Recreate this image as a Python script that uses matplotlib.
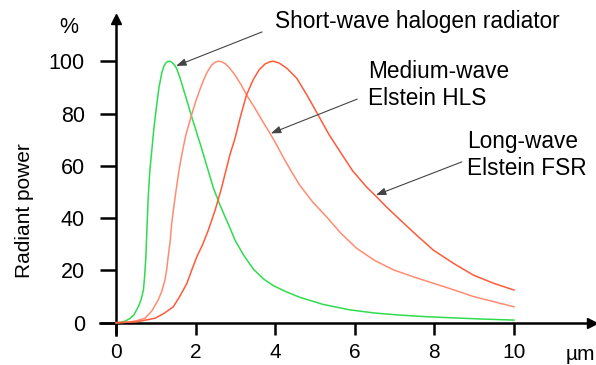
import matplotlib
matplotlib.use("Agg")
import matplotlib.pyplot as plt

plt.rcParams['font.family'] = ['Liberation Sans', 'DejaVu Sans']

# ---- data ----
short_x = [0, 0.1, 0.23, 0.35, 0.45, 0.56, 0.63, 0.69, 0.72, 0.75, 0.78, 0.81, 0.85, 0.9,
           0.95, 1.02, 1.08, 1.15, 1.2, 1.25, 1.3, 1.34, 1.38, 1.43, 1.48, 1.52, 1.6, 1.7,
           1.8, 1.9, 2.0, 2.15, 2.3, 2.45, 2.6, 2.74, 2.87, 2.99, 3.2, 3.45, 3.7, 3.95,
           4.25, 4.62, 5.2, 5.88, 6.5, 7.14, 7.8, 8.39, 9.2, 10]
short_y = [0, 0.1, 0.6, 1.6, 3.0, 6.1, 8.8, 12.5, 18, 25, 37, 48, 58, 66,
           74, 83, 90, 95.5, 98, 99.3, 99.9, 100, 99.8, 99.2, 98.3, 97.3, 94, 89,
           84, 78.8, 74, 66.7, 59, 51.4, 45.5, 40.5, 36, 31.6, 26, 20.5, 16.8, 14.2,
           12, 9.7, 7.0, 4.9, 3.7, 2.9, 2.3, 1.9, 1.4, 1.0]

medium_x = [0, 0.3, 0.5, 0.73, 0.9, 1.06, 1.15, 1.23, 1.28, 1.31, 1.36, 1.40, 1.45, 1.51,
            1.58, 1.65, 1.75, 1.9, 2.0, 2.15, 2.28, 2.4, 2.5, 2.57, 2.65, 2.75, 2.86, 3.0,
            3.15, 3.28, 3.5, 3.7, 3.87, 4.05, 4.2, 4.4, 4.62, 4.95, 5.29, 5.65, 6.05, 6.5,
            6.97, 7.5, 7.97, 8.5, 8.98, 9.5, 10]
medium_y = [0, 0.2, 0.7, 1.7, 4.5, 8.7, 12, 16.3, 21, 25.2, 31, 38, 44, 50.7,
            58, 64, 71.5, 79.5, 84.5, 90.9, 95.5, 98.5, 99.7, 100, 99.8, 99, 97.3, 94.5,
            90.8, 87.1, 81.8, 76.6, 72.4, 67.6, 63.3, 58, 52.5, 46, 40.5, 34.2, 28.4, 23.8,
            20.2, 17.4, 15.1, 12.5, 10, 8, 6.1]

long_x = [0, 0.5, 0.98, 1.2, 1.44, 1.6, 1.78, 1.9, 2.03, 2.18, 2.32, 2.49, 2.65, 2.75,
          2.86, 2.99, 3.13, 3.28, 3.45, 3.6, 3.75, 3.87, 3.95, 4.1, 4.3, 4.54, 4.8, 5.08,
          5.35, 5.63, 5.95, 6.3, 6.53, 6.8, 7.14, 7.55, 7.97, 8.5, 8.98, 9.5, 10]
long_y = [0, 0.3, 1.7, 3.5, 6.1, 10, 15, 20, 25.2, 30, 35.4, 43, 51.4, 57.5,
          64.1, 70.5, 79, 87.1, 93, 96.8, 99, 99.8, 100, 99.3, 97.2, 93.5, 87, 79.4,
          72, 65.4, 58, 51.8, 48.4, 44.2, 39.3, 33.5, 27.8, 22.5, 18.2, 15, 12.5]

x_ticks = [0, 2, 4, 6, 8, 10]
y_ticks = [0, 20, 40, 60, 80, 100]

label_short = "Short-wave halogen radiator"
label_medium = ["Medium-wave", "Elstein HLS"]
label_long = ["Long-wave", "Elstein FSR"]

W, H = 596, 365
fig = plt.figure(figsize=(W / 100, H / 100), dpi=100)
ax = fig.add_axes([0, 0, 1, 1])

# pixel mapping: x=0 -> 116 px, 39.8 px/unit ; y=0 -> 322.7 px from top, 2.615 px/unit
px_x = 39.8
px_y = 2.615
x0 = 116
y0 = H - 322.7
ax.set_xlim(-x0 / px_x, (W - x0) / px_x)
ax.set_ylim(-y0 / px_y, (H - y0) / px_y)
ax.patch.set_visible(False)

green = '#2fdc4f'
salmon = '#ff8c72'
red = '#ff5a3a'

ax.plot(short_x, short_y, color=green, lw=1.1, zorder=3, solid_joinstyle='round')
ax.plot(medium_x, medium_y, color=salmon, lw=1.1, zorder=3, solid_joinstyle='round')
ax.plot(long_x, long_y, color=red, lw=1.1, zorder=3, solid_joinstyle='round')

# spines
for s in ['top', 'right']:
    ax.spines[s].set_visible(False)
ax.spines['left'].set_position(('data', 0))
ax.spines['bottom'].set_position(('data', 0))
ax.spines['left'].set_bounds(-4.7, 115)
ax.spines['bottom'].set_bounds(-0.4, 11.9)
for s in ['left', 'bottom']:
    ax.spines[s].set_linewidth(1.8)
    ax.spines[s].set_color('black')

ax.plot(0, 116, marker='^', color='black', markersize=7, clip_on=False, zorder=5)
ax.plot(11.95, 0, marker='>', color='black', markersize=7, clip_on=False, zorder=5)

ax.set_xticks(x_ticks)
ax.set_yticks(y_ticks)
ax.tick_params(axis='x', direction='out', length=8.6, width=1.8, pad=6, labelsize=15)
ax.tick_params(axis='y', direction='out', length=11.5, width=1.8, pad=11, labelsize=15.5)

# axis texts
fig.text(69 / W, 1 - 33.3 / H, '%', ha='center', va='baseline', fontsize=15.5)
fig.text(566 / W, 1 - 360 / H, 'µm', ha='left', va='baseline', fontsize=15)
fig.text(25 / W, 1 - 211 / H, 'Radiant power', rotation=90, ha='center', va='center',
         fontsize=15)

# annotation texts
fs_ann = 16.3
fig.text(275 / W, 1 - 28.3 / H, label_short, ha='left', va='baseline', fontsize=fs_ann)
fig.text(368 / W, 1 - 78.3 / H, label_medium[0], ha='left', va='baseline', fontsize=fs_ann)
fig.text(368 / W, 1 - 105 / H, label_medium[1], ha='left', va='baseline', fontsize=fs_ann)
fig.text(467 / W, 1 - 148.3 / H, label_long[0], ha='left', va='baseline', fontsize=fs_ann)
fig.text(467 / W, 1 - 175 / H, label_long[1], ha='left', va='baseline', fontsize=fs_ann)

arrow = dict(arrowstyle='-|>,head_length=0.6,head_width=0.22', color='#444444', lw=0.8,
             shrinkA=0, shrinkB=0)
ax.annotate('', xy=(1.51, 98.2), xytext=(3.67, 111.2), arrowprops=arrow)
ax.annotate('', xy=(3.89, 72.4), xytext=(6.06, 85.5), arrowprops=arrow)
ax.annotate('', xy=(6.53, 48.8), xytext=(8.69, 61.5), arrowprops=arrow)

fig.savefig('out.png', dpi=100)
